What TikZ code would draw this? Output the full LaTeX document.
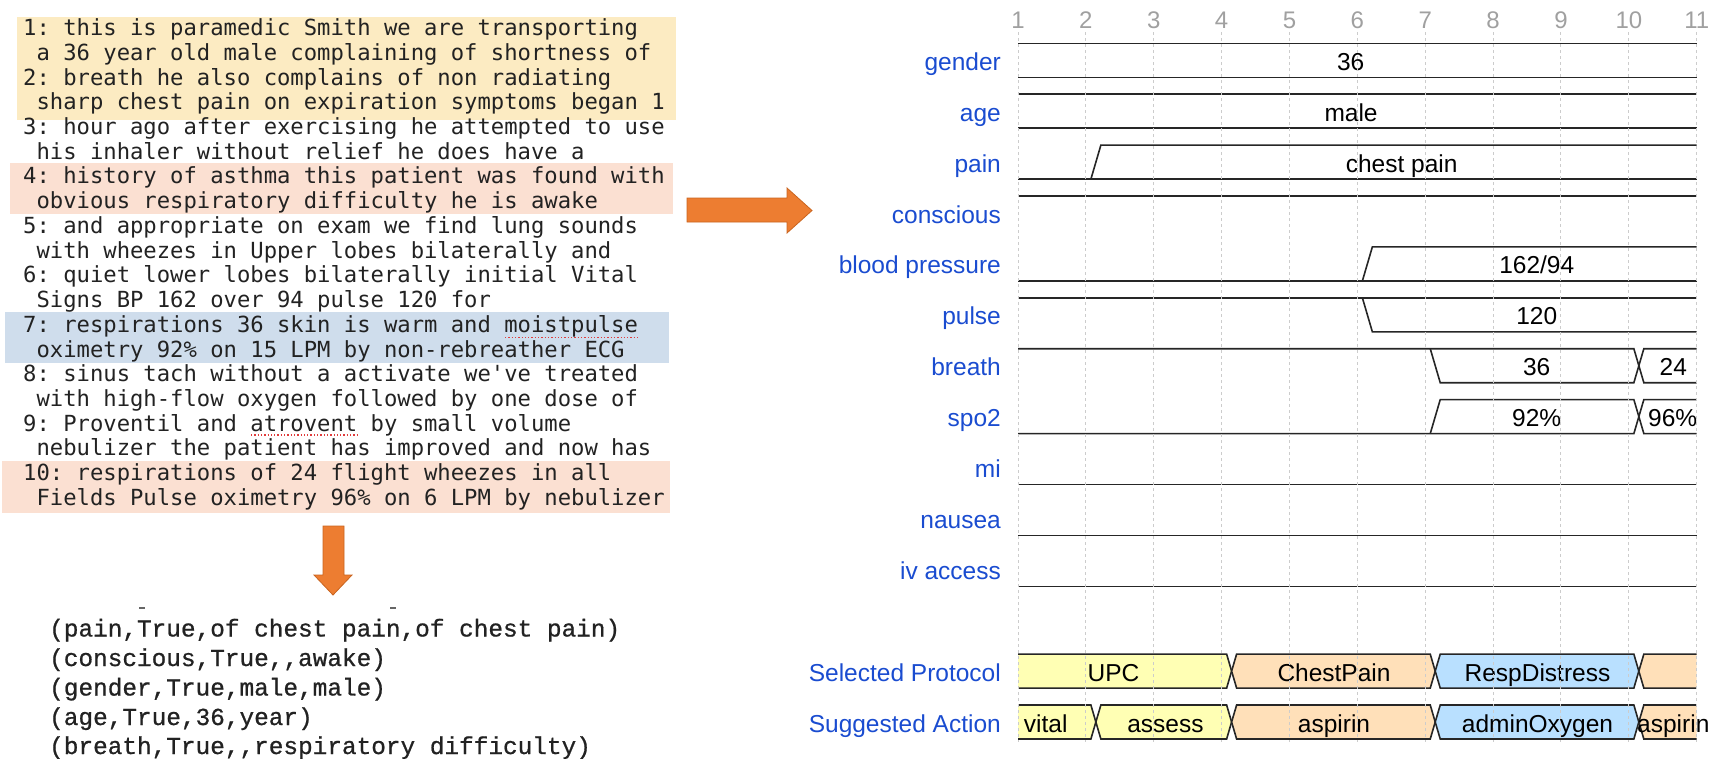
\documentclass[tikz,border=0pt]{standalone}
\usepackage{fontspec}
\setmainfont{Liberation Sans}
\newfontfamily\notefont{DejaVu Sans Mono}
\newfontfamily\tuplefont{Liberation Mono}[FakeBold=0.8]
\definecolor{noteink}{HTML}{222222}
\definecolor{bandyellow}{HTML}{FCEBC2}
\definecolor{bandpink}{HTML}{FBE0D2}
\definecolor{bandblue}{HTML}{CFDDEC}
\definecolor{flowarrow}{HTML}{ED7D31}
\definecolor{flowedge}{HTML}{C9641F}
\definecolor{lanename}{HTML}{1A4CD0}
\definecolor{tickgray}{HTML}{A0A0A0}
\definecolor{gridgray}{HTML}{CCCCCC}
\definecolor{datayellow}{HTML}{FFFFB4}
\definecolor{dataorange}{HTML}{FFE0B9}
\definecolor{datablue}{HTML}{B9E0FF}
\definecolor{squiggle}{HTML}{E03C3C}

\begin{document}
\begin{tikzpicture}[x=1pt, y=-1pt,
                    every node/.style={inner sep=0pt},
                    note/.style={anchor=west, text=noteink, text height=16pt, text depth=5pt,
                                 font=\notefont\frenchspacing\fontsize{22.2}{26}\selectfont},
                    tuple/.style={anchor=west, text=noteink, text height=17pt, text depth=5pt,
                                  font=\tuplefont\frenchspacing\fontsize{24.4}{29}\selectfont},
                    lane/.style={anchor=east, text=lanename, text height=18pt, text depth=5pt,
                                 yshift=-3.5pt, font=\fontsize{24.5}{29}\selectfont},
                    val/.style={text=black, text height=18pt, text depth=5pt,
                                yshift=-3.5pt, font=\fontsize{24.5}{29}\selectfont},
                    ticknum/.style={text=tickgray, font=\fontsize{24}{28}\selectfont},
                    gridline/.style={gridgray, line width=1pt, dash pattern=on 3pt off 3pt},
                    wave/.style={draw=black!85, line width=1.6pt},
                    fat arrow/.style={fill=flowarrow, draw=flowedge, line width=0.8pt}]

  \useasboundingbox (0,0) rectangle (1729,758);

  %% highlighted transcript segments
  \fill[bandyellow] (17,17) rectangle (676,120);
  \fill[bandpink] (10,163) rectangle (673,214);
  \fill[bandblue] (5,312) rectangle (669,363);
  \fill[bandpink] (2,461) rectangle (670,513);

  %% transcript
  \node[note] (n1a) at (23,30.0) {1: this is paramedic Smith we are transporting};
  \node[note] (n1b) at (23,54.7) {\ a 36 year old male complaining of shortness of};
  \node[note] (n2a) at (23,79.5) {2: breath he also complains of non radiating};
  \node[note] (n2b) at (23,104.2) {\ sharp chest pain on expiration symptoms began 1};
  \node[note] (n3a) at (23,128.9) {3: hour ago after exercising he attempted to use};
  \node[note] (n3b) at (23,153.7) {\ his inhaler without relief he does have a};
  \node[note] (n4a) at (23,178.4) {4: history of asthma this patient was found with};
  \node[note] (n4b) at (23,203.1) {\ obvious respiratory difficulty he is awake};
  \node[note] (n5a) at (23,227.8) {5: and appropriate on exam we find lung sounds};
  \node[note] (n5b) at (23,252.6) {\ with wheezes in Upper lobes bilaterally and};
  \node[note] (n6a) at (23,277.3) {6: quiet lower lobes bilaterally initial Vital};
  \node[note] (n6b) at (23,302.0) {\ Signs BP 162 over 94 pulse 120 for};
  \node[note] (n7a) at (23,326.8) {7: respirations 36 skin is warm and moistpulse};
  \node[note] (n7b) at (23,351.5) {\ oximetry 92\% on 15 LPM by non-rebreather ECG};
  \node[note] (n8a) at (23,376.2) {8: sinus tach without a activate we've treated};
  \node[note] (n8b) at (23,401.0) {\ with high-flow oxygen followed by one dose of};
  \node[note] (n9a) at (23,425.7) {9: Proventil and atrovent by small volume};
  \node[note] (n9b) at (23,450.4) {\ nebulizer the patient has improved and now has};
  \node[note] (n10a) at (23,475.2) {10: respirations of 24 flight wheezes in all};
  \node[note] (n10b) at (23,499.9) {\ Fields Pulse oximetry 96\% on 6 LPM by nebulizer};

  %% spell-check marks
  \draw[squiggle, dotted, line width=1.3pt] (505,337.5) -- (638,337.5);
  \draw[squiggle, dotted, line width=1.3pt] (251,435) -- (357,435);

  %% block arrows
  \filldraw[fat arrow] (687,198) -- (787,198) -- (787,188) -- (812,210.5)
                       -- (787,233) -- (787,222) -- (687,222) -- cycle;
  \filldraw[fat arrow] (323,526) -- (344,526) -- (344,575) -- (352,575)
                       -- (333,595) -- (314,575) -- (323,575) -- cycle;

  %% extracted tuples
  \draw[black!60, line width=1.5pt] (139,608) -- (145,608);
  \draw[black!60, line width=1.5pt] (390,608) -- (396,608);
  \node[tuple] (t1) at (49,630.5) {(pain,True,of chest pain,of chest pain)};
  \node[tuple] (t2) at (49,660.0) {(conscious,True,,awake)};
  \node[tuple] (t3) at (49,689.5) {(gender,True,male,male)};
  \node[tuple] (t4) at (49,719.0) {(age,True,36,year)};
  \node[tuple] (t5) at (49,748.0) {(breath,True,,respiratory difficulty)};

  %% timing chart: one unit per tick, one unit per lane
  \begin{scope}[shift={(1018,60.3)}, x=67.87pt, y=-50.9pt]

    %% lane names
    \node[lane] (gender) at (-0.25,0) {gender};
    \node[lane] (age) at (-0.25,1) {age};
    \node[lane] (pain) at (-0.25,2) {pain};
    \node[lane] (conscious) at (-0.25,3) {conscious};
    \node[lane] (bp) at (-0.25,4) {blood pressure};
    \node[lane] (pulse) at (-0.25,5) {pulse};
    \node[lane] (breath) at (-0.25,6) {breath};
    \node[lane] (spo) at (-0.25,7) {spo2};
    \node[lane] (mi) at (-0.25,8) {mi};
    \node[lane] (nausea) at (-0.25,9) {nausea};
    \node[lane] (iv) at (-0.25,10) {iv access};
    \node[lane] (proto) at (-0.25,12) {Selected Protocol};
    \node[lane] (action) at (-0.25,13) {Suggested Action};

    %% gender / age
    \draw[wave] (0,-0.334) -- (10,-0.334);
    \draw[wave] (0,0.334) -- (10,0.334);
    \node[val] (vgender) at (4.902,0) {36};
    \draw[wave] (0,0.666) -- (10,0.666);
    \draw[wave] (0,1.334) -- (10,1.334);
    \node[val] (vage) at (4.907,1) {male};

    %% pain
    \draw[wave] (0,2.334) -- (10,2.334);
    \draw[wave] (1.074,2.334) -- (1.221,1.666) -- (10,1.666);
    \node[val] (vpain) at (5.653,2) {chest pain};

    %% conscious
    \draw[wave] (0,2.666) -- (10,2.666);

    %% blood pressure / pulse
    \draw[wave] (0,4.334) -- (10,4.334);
    \draw[wave] (5.074,4.334) -- (5.221,3.666) -- (10,3.666);
    \node[val] (vbp) at (7.643,4) {162/94};
    \draw[wave] (0,4.666) -- (10,4.666);
    \draw[wave] (5.074,4.666) -- (5.221,5.334) -- (10,5.334);
    \node[val] (vpulse) at (7.643,5) {120};

    %% breath
    \draw[wave] (0,5.666) -- (9.074,5.666) -- (9.221,6.334) -- (10,6.334);
    \draw[wave] (6.074,5.666) -- (6.221,6.334) -- (9.074,6.334) -- (9.221,5.666) -- (10,5.666);
    \node[val] (vbreath1) at (7.643,6) {36};
    \node[val] (vbreath2) at (9.655,6) {24};

    %% spo2
    \draw[wave] (0,7.334) -- (9.074,7.334) -- (9.221,6.666) -- (10,6.666);
    \draw[wave] (6.074,7.334) -- (6.221,6.666) -- (9.074,6.666) -- (9.221,7.334) -- (10,7.334);
    \node[val] (vspo1) at (7.643,7) {92\%};
    \node[val] (vspo2) at (9.646,7) {96\%};

    %% mi, nausea, iv access
    \draw[wave] (0,8.334) -- (10,8.334);
    \draw[wave] (0,9.334) -- (10,9.334);
    \draw[wave] (0,10.334) -- (10,10.334);

    %% selected protocol
    \fill[datayellow] (0,11.666) -- (3.074,11.666) -- (3.147,12) -- (3.074,12.334) -- (0,12.334) -- cycle;
    \draw[wave] (0,11.666) -- (3.074,11.666) -- (3.147,12) -- (3.074,12.334) -- (0,12.334);
    \filldraw[wave, fill=dataorange] (3.147,12) -- (3.221,11.666) -- (6.074,11.666) -- (6.147,12)
                                     -- (6.074,12.334) -- (3.221,12.334) -- cycle;
    \filldraw[wave, fill=datablue] (6.147,12) -- (6.221,11.666) -- (9.074,11.666) -- (9.147,12)
                                   -- (9.074,12.334) -- (6.221,12.334) -- cycle;
    \fill[dataorange] (9.147,12) -- (9.221,11.666) -- (10,11.666) -- (10,12.334) -- (9.221,12.334) -- cycle;
    \draw[wave] (10,11.666) -- (9.221,11.666) -- (9.147,12) -- (9.221,12.334) -- (10,12.334);
    \node[val] (pupc) at (1.406,12) {UPC};
    \node[val] (pchest) at (4.656,12) {ChestPain};
    \node[val] (presp) at (7.654,12) {RespDistress};

    %% suggested action
    \fill[datayellow] (0,12.666) -- (1.074,12.666) -- (1.147,13) -- (1.074,13.334) -- (0,13.334) -- cycle;
    \draw[wave] (0,12.666) -- (1.074,12.666) -- (1.147,13) -- (1.074,13.334) -- (0,13.334);
    \filldraw[wave, fill=datayellow] (1.147,13) -- (1.221,12.666) -- (3.074,12.666) -- (3.147,13)
                                     -- (3.074,13.334) -- (1.221,13.334) -- cycle;
    \filldraw[wave, fill=dataorange] (3.147,13) -- (3.221,12.666) -- (6.074,12.666) -- (6.147,13)
                                     -- (6.074,13.334) -- (3.221,13.334) -- cycle;
    \filldraw[wave, fill=datablue] (6.147,13) -- (6.221,12.666) -- (9.074,12.666) -- (9.147,13)
                                   -- (9.074,13.334) -- (6.221,13.334) -- cycle;
    \fill[dataorange] (9.147,13) -- (9.221,12.666) -- (10,12.666) -- (10,13.334) -- (9.221,13.334) -- cycle;
    \draw[wave] (10,12.666) -- (9.221,12.666) -- (9.147,13) -- (9.221,13.334) -- (10,13.334);
    \node[val] (avital) at (0.408,13) {vital};
    \node[val] (aassess) at (2.172,13) {assess};
    \node[val] (aaspirin1) at (4.656,13) {aspirin};
    \node[val] (aoxygen) at (7.654,13) {adminOxygen};
    \node[val] (aaspirin2) at (9.655,13) {aspirin};

    %% tick numbers and grid
    \foreach \k in {1,...,11} {
      \node[ticknum] (tick\k) at (\k-1,-0.79) {\k};
      \draw[gridline] (\k-1,-0.556) -- (\k-1,13.39);
    }
  \end{scope}

\end{tikzpicture}
\end{document}
